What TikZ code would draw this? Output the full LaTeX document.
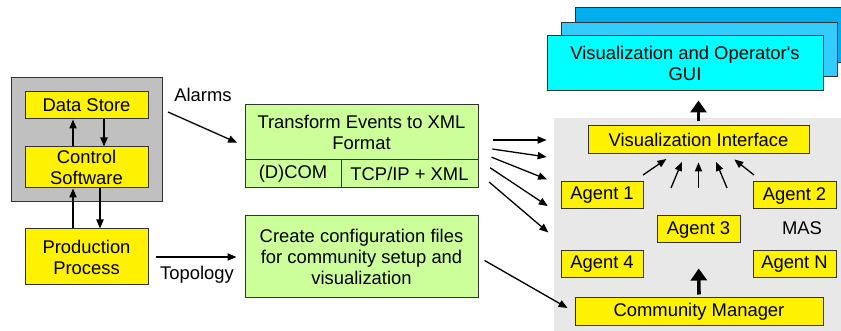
\documentclass[tikz,border=0pt]{standalone}
\usepackage{fontspec}
\setmainfont{Liberation Sans}
\usetikzlibrary{arrows.meta,calc}

\definecolor{lgreen}{HTML}{CCFF99}
\definecolor{guifront}{HTML}{00FFFF}
\definecolor{guimid}{HTML}{33CCFF}
\definecolor{guiback}{HTML}{00ADEF}
\definecolor{hostgray}{HTML}{C0C0C0}
\definecolor{masgray}{HTML}{E8E8E8}

\tikzset{
  box/.style={draw=black!80, line width=0.5pt, inner sep=0pt, align=center,
              font=\fontsize{9.2}{10.5}\selectfont},
  yel/.style={box, fill=yellow},
  grn/.style={box, fill=lgreen},
  lbl/.style={font=\fontsize{9.2}{10.5}\selectfont},
  arr/.style={-{Triangle[length=4.5pt,width=3.6pt]}, line width=0.65pt},
  fat/.style={-{Triangle[length=6pt,width=8pt]}, line width=1.8pt},
}

\begin{document}
\begin{tikzpicture}[x=0.5pt,y=-0.5pt]
  \useasboundingbox (0,0) rectangle (841,331);

  % plant side
  \draw[draw=black!80, line width=0.5pt, fill=hostgray] (11,78) rectangle (162,202);
  \node[yel, minimum width=61.5pt, minimum height=13.5pt] (ds) at (86.5,105.5) {Data Store};
  \node[yel, minimum width=61.5pt, minimum height=20.5pt] (cs) at (86.5,167.5) {Control\\Software};
  \node[yel, minimum width=61.5pt, minimum height=28pt] (pp) at (86.5,257) {Production\\Process};

  \draw[arr] (73,0 |- cs.north) -- (73,0 |- ds.south);
  \draw[arr] (104,0 |- ds.south) -- (104,0 |- cs.north);
  \draw[arr] (73,0 |- pp.north) -- (73,0 |- cs.south);
  \draw[arr] (100,0 |- cs.south) -- (100,0 |- pp.north);

  % converters
  \node[grn, minimum width=116.5pt, minimum height=27.5pt] (trtop) at (361.5,132.5) {Transform Events to XML\\Format};
  \node[grn, minimum width=48pt, minimum height=14pt] (dcom) at (293,174) {(D)COM};
  \node[grn, minimum width=68.5pt, minimum height=14pt] (tcp) at (409.5,174) {TCP/IP + XML};
  \node[grn, minimum width=116.5pt, minimum height=41pt] (cr) at (361.5,257)
    {Create configuration files\\for community setup and\\visualization};

  \node[lbl] (alarms) at (203,95) {Alarms};
  \coordinate (alarmsrc) at (168,112);
  \draw[arr, shorten >=4pt] (alarmsrc) -- (trtop.west |- 0,146);
  \draw[arr, shorten <=3.5pt, shorten >=4pt] (pp.east |- 0,257) -- (cr.west);
  \node[lbl] (topo) at (197,275) {Topology};

  % multi-agent system
  \node[fill=masgray, minimum width=143.5pt, minimum height=106.5pt, inner sep=0pt] (mas) at (697.5,224.5) {};

  \fill[guiback, draw=black!80, line width=0.5pt] (575,8) rectangle (860,63);
  \fill[guimid, draw=black!80, line width=0.5pt] (561,23) rectangle (837,77);
  \node[box, fill=guifront, minimum width=138pt, minimum height=27.5pt] (gui) at (685,63.5)
    {Visualization and Operator\textquotesingle s\\GUI};

  \node[yel, minimum width=110.5pt, minimum height=14pt] (vi) at (698.5,140) {Visualization Interface};
  \node[yel, minimum width=41pt, minimum height=13.5pt] (a1) at (602,195.5) {Agent 1};
  \node[yel, minimum width=41.5pt, minimum height=13.5pt] (a2) at (794.5,195.5) {Agent 2};
  \node[yel, minimum width=41.5pt, minimum height=13.5pt] (a3) at (698.5,229.5) {Agent 3};
  \node[yel, minimum width=41pt, minimum height=13.5pt] (a4) at (602,264.5) {Agent 4};
  \node[yel, minimum width=41.5pt, minimum height=13.5pt] (an) at (794.5,264.5) {Agent N};
  \node[lbl] (maslbl) at (802,228) {MAS};
  \node[yel, minimum width=124pt, minimum height=14pt] (cm) at (699,312) {Community Manager};

  \draw[fat, shorten <=2pt, shorten >=4.5pt] (vi.north) -- (vi.north |- gui.south);
  \draw[fat, shorten <=1.5pt, shorten >=12.5pt] (cm.north) -- (a3.south);

  \foreach \xs/\ys/\xe in {643/175/673, 671/188/685, 698.5/188/698.5, 727/188/713, 754/175/728}
    \draw[arr, shorten >=4pt] (\xs,\ys) -- (vi.south -| \xe,0);

  % event streams into the MAS
  \foreach \ys/\ye in {140/140, 147/158, 152/182, 160/210, 173/237}
    \draw[arr, shorten <=7pt, shorten >=3.5pt] (trtop.east |- 0,\ys) -- (mas.west |- 0,\ye);

  \draw[arr, shorten <=3.5pt, shorten >=4pt] (cr.east) -- (cm.west);
\end{tikzpicture}
\end{document}
